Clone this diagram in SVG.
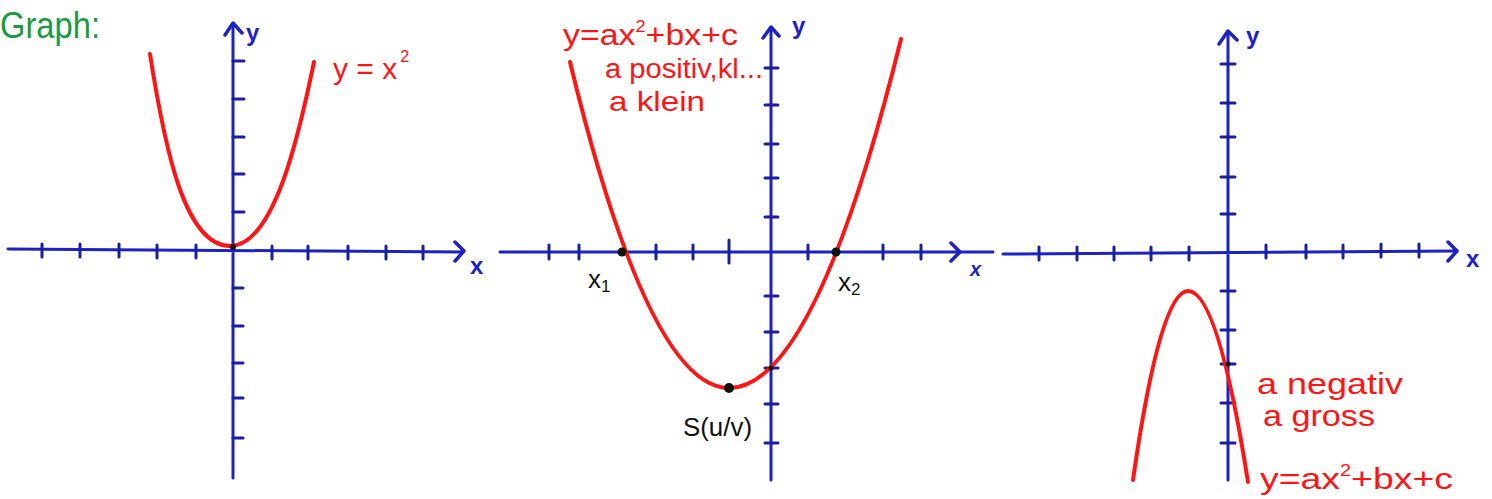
<svg xmlns="http://www.w3.org/2000/svg" width="1492" height="499" viewBox="0 0 1492 499">
<style>
.axis{stroke:#1c22c4;stroke-width:3;fill:none;stroke-linecap:round;stroke-linejoin:round}
.tick{stroke:#1a1f9e;stroke-width:3;fill:none;stroke-linecap:round}
.arrow{stroke:#1c22c4;stroke-width:3.5;fill:none;stroke-linecap:round;stroke-linejoin:round}
.curve{stroke:#ff1414;stroke-width:4;fill:none;stroke-linecap:round}
.lblB{fill:#1c22c4;font-family:"Liberation Sans",Arial,sans-serif;font-size:24px;font-weight:bold}
.lblR{fill:#ff1414;font-family:"Liberation Sans",Arial,sans-serif;font-size:30px}
.lblK{fill:#111;font-family:"Liberation Sans",Arial,sans-serif;font-size:26px}
.dot{fill:#111}
.sup{font-size:16px}
</style>
<rect width="1492" height="499" fill="#fff"/>
<text id="title" x="0" y="38" fill="#1a9a40" font-family="Liberation Sans, Arial, sans-serif" font-size="36" textLength="100" lengthAdjust="spacingAndGlyphs">Graph:</text>

<g id="graph1">
  <path class="axis" d="M8,249 L463,252 M233,478 L233,24"/>
  <path class="arrow" d="M455,242 L464,251 L455,261 M225,35 L233,23 L242,33"/>
  <path class="tick" d="M42,244V257M80,244V257M119,244V257M157,245V258M196,245V258M272,246V259M308,246V259M348,246V259M386,246V259M423,246V259
    M233,61H244M233,99H244M233,137H244M233,174H244M233,212H244M233,288H243M233,326H243M233,363H243M233,398H243M233,438H243"/>
  <path class="curve" d="M150,54 C165,150 185,246 230,246 C275,246 300,130 314,62"/>
  <circle class="dot" cx="233" cy="247" r="3"/>
  <text class="lblB" x="246" y="41">y</text>
  <text class="lblB" x="470" y="274">x</text>
  <text class="lblR" x="333" y="79">y = x<tspan class="sup" dx="3" dy="-17">2</tspan></text>
</g>

<g id="graph2">
  <path class="axis" d="M500,252 L993,252 M771,480 L771,28"/>
  <path class="arrow" d="M951,243 L960,252 L951,261 M763,38 L771,27 L779,36"/>
  <path class="tick" d="M549,245V259M579,245V259M656,245V259M693,245V259M729,240V263M808,245V259M883,245V259M921,245V259
    M765,68H778M765,105H778M765,144H778M765,178H778M765,217H778M765,296H778M765,332H778M765,368H778M765,404H778M765,443H778"/>
  <path class="curve" d="M570,62 Q649,388 729,388 Q815,388 901,39"/>
  <circle class="dot" cx="622" cy="252" r="4.5"/>
  <circle class="dot" cx="836" cy="252" r="4.5"/>
  <circle class="dot" cx="729" cy="388" r="5"/>
  <circle class="dot" cx="771" cy="368" r="2.5"/>
  <text class="lblB" x="792" y="34">y</text>
  <text class="lblB" x="970" y="276" style="font-style:italic;font-size:20px">x</text>
  <text class="lblR" x="563" y="45" textLength="175" lengthAdjust="spacingAndGlyphs">y=ax<tspan class="sup" dy="-13">2</tspan><tspan dy="13">+bx+c</tspan></text>
  <text class="lblR" x="605" y="78" style="font-size:27px" textLength="158" lengthAdjust="spacingAndGlyphs">a positiv,kl...</text>
  <text class="lblR" x="609" y="111" style="font-size:28px" textLength="96" lengthAdjust="spacingAndGlyphs">a klein</text>
  <text class="lblK" x="588" y="288">x<tspan style="font-size:17px" dy="4">1</tspan></text>
  <text class="lblK" x="838" y="291">x<tspan style="font-size:17px" dy="4">2</tspan></text>
  <text class="lblK" x="683" y="436" textLength="69" lengthAdjust="spacingAndGlyphs">S(u/v)</text>
</g>

<g id="graph3">
  <path class="axis" d="M1003,254 L1456,251 M1228,480 L1228,32"/>
  <path class="arrow" d="M1448,242 L1457,251 L1448,261 M1219,44 L1228,31 L1237,40"/>
  <path class="tick" d="M1039,247V260M1077,247V260M1114,247V260M1151,247V260M1189,247V260M1266,245V258M1306,245V258M1343,245V258M1381,244V257M1419,244V257
    M1221,64H1235M1221,103H1235M1221,137H1235M1221,177H1235M1221,214H1235M1221,291H1235M1221,330H1235M1221,364H1235M1221,403H1235M1221,443H1235"/>
  <path class="curve" d="M1133,480 Q1160,291 1188,291 Q1218,291 1248,482"/>
  <circle class="dot" cx="1228" cy="364" r="2.5"/>
  <text class="lblB" x="1246" y="44">y</text>
  <text class="lblB" x="1466" y="267">x</text>
  <text class="lblR" x="1257" y="394" textLength="146" lengthAdjust="spacingAndGlyphs">a negativ</text>
  <text class="lblR" x="1263" y="426" textLength="112" lengthAdjust="spacingAndGlyphs">a gross</text>
  <text class="lblR" x="1260" y="489" textLength="193" lengthAdjust="spacingAndGlyphs">y=ax<tspan class="sup" dy="-13">2</tspan><tspan dy="13">+bx+c</tspan></text>
</g>
</svg>
